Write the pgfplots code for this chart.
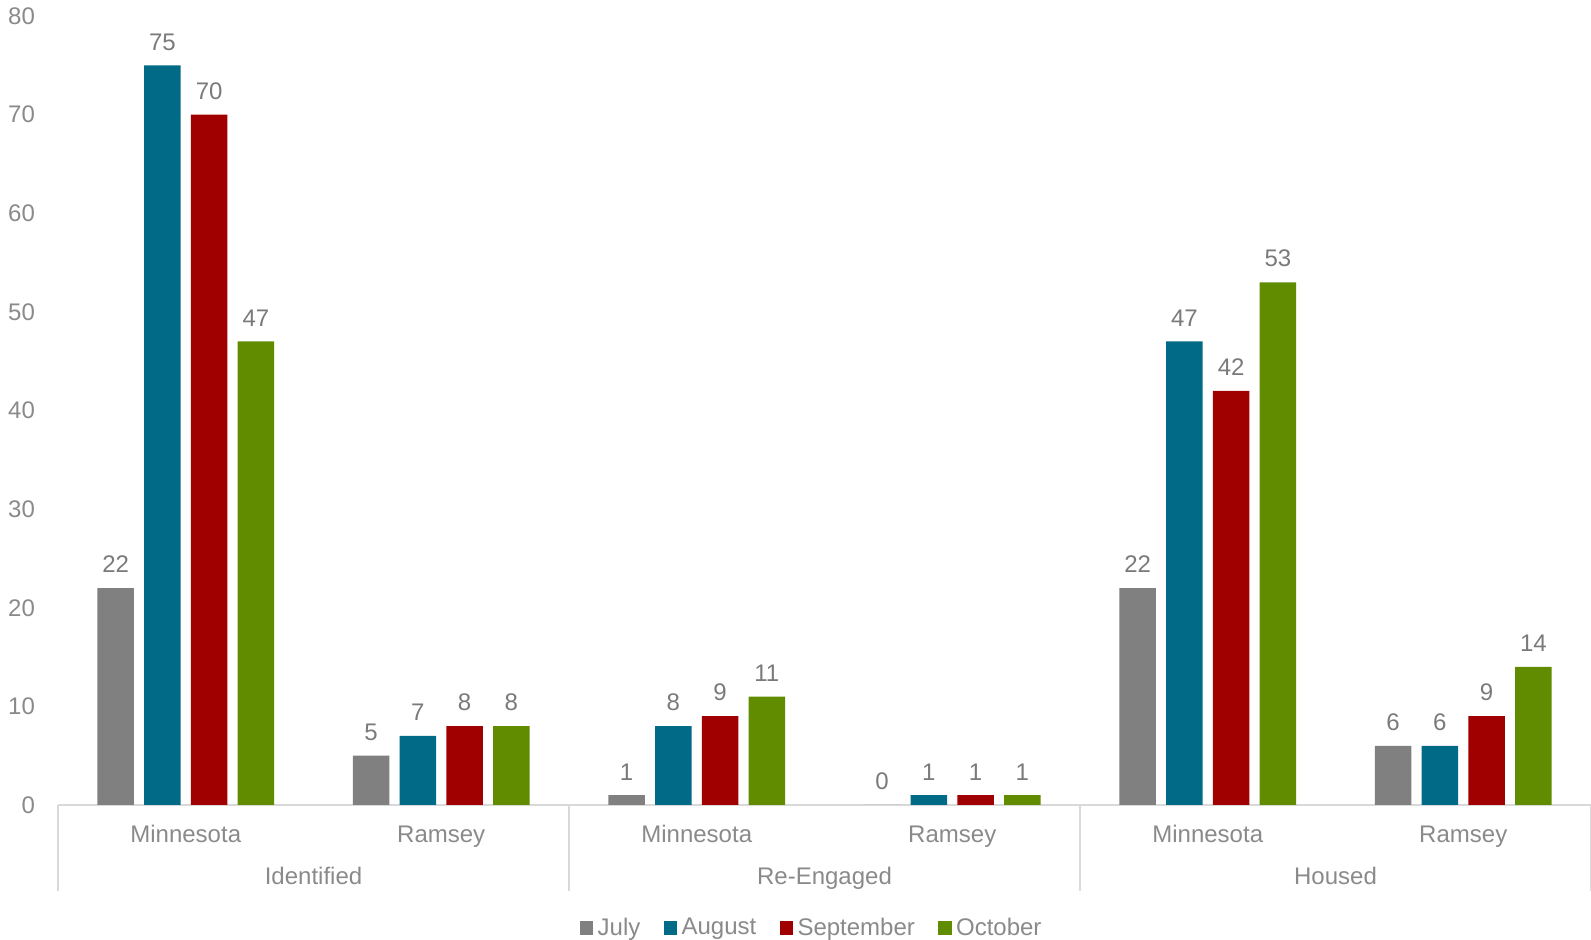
\documentclass[border=0pt]{standalone}
\usepackage{pgfplots}
\pgfplotsset{compat=1.18}
\usepackage{fontspec}
\setmainfont{Liberation Sans}
\definecolor{cJul}{HTML}{808080}
\definecolor{cAug}{HTML}{006A87}
\definecolor{cSep}{HTML}{A00000}
\definecolor{cOct}{HTML}{618C00}
\definecolor{txt}{HTML}{8A8A8A}
\definecolor{lbl}{HTML}{7A7A7A}
\definecolor{axl}{HTML}{D9D9D9}
\begin{document}
\begin{tikzpicture}
\useasboundingbox (0,0) rectangle (795.5pt,470pt);
\begin{axis}[
  at={(29pt,67.5pt)}, anchor=south west,
  scale only axis, width=766.5pt, height=394.5pt,
  xmin=-0.5, xmax=5.5, ymin=0, ymax=80,
  ybar, bar width=0.143,
  axis x line*=bottom, axis y line*=left,
  x axis line style={axl, line width=0.75pt, -},
  y axis line style={draw=none},
  xtick={0,1,2,3,4,5},
  xticklabels={Minnesota,Ramsey,Minnesota,Ramsey,Minnesota,Ramsey},
  xtick style={draw=none}, ytick style={draw=none},
  xticklabel style={font=\fontsize{12}{14}\selectfont, text=txt, anchor=base, yshift=-14.3pt},
  ytick={0,10,...,80},
  yticklabel style={font=\fontsize{12}{14}\selectfont, text=txt, anchor=east, xshift=-8pt},
  clip=false,
  every node near coord/.append style={font=\fontsize{12}{14}\selectfont, text=lbl, yshift=4pt},
  nodes near coords,
  /pgf/number format/assume math mode=true,
  legend style={at={(0.4925,-0.156)}, anchor=center, draw=none, legend columns=-1,
    font=\fontsize{12}{14}\selectfont, text=txt,
    nodes={inner xsep=2.3pt},
    /tikz/every even column/.append style={column sep=9.4pt}},
  legend image code/.code={\fill[#1] (0pt,-3.3pt) rectangle (6.6pt,3.3pt);},
  legend cell align=left,
]
\addplot[fill=cJul, draw=none, bar shift=-0.2745] coordinates {(0,22) (1,5) (2,1) (3,0) (4,22) (5,6)};
\addplot[fill=cAug, draw=none, bar shift=-0.0915] coordinates {(0,75) (1,7) (2,8) (3,1) (4,47) (5,6)};
\addplot[fill=cSep, draw=none, bar shift=0.0915] coordinates {(0,70) (1,8) (2,9) (3,1) (4,42) (5,9)};
\addplot[fill=cOct, draw=none, bar shift=0.2745] coordinates {(0,47) (1,8) (2,11) (3,1) (4,53) (5,14)};
\legend{July,August,September,October}
\pgfplotsinvokeforeach{-0.5,1.5,3.5,5.5}{
  \draw[axl, line width=0.75pt] (axis cs:#1,0) -- ([yshift=-43pt]axis cs:#1,0);
}
\node[font=\fontsize{12}{14}\selectfont, text=txt, anchor=base] at (axis cs:0.5,0) [yshift=-39.8pt] {Identified};
\node[font=\fontsize{12}{14}\selectfont, text=txt, anchor=base] at (axis cs:2.5,0) [yshift=-39.8pt] {Re-Engaged};
\node[font=\fontsize{12}{14}\selectfont, text=txt, anchor=base] at (axis cs:4.5,0) [yshift=-39.8pt] {Housed};
\end{axis}
\end{tikzpicture}
\end{document}
